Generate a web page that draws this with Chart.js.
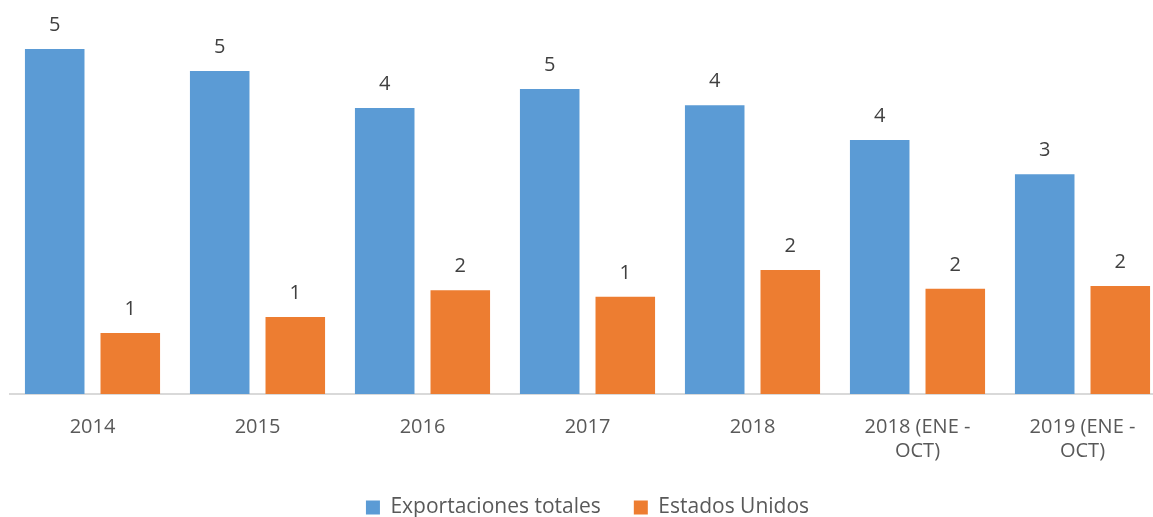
<!DOCTYPE html>
<html>
<head>
<meta charset="utf-8">
<script src="https://cdn.jsdelivr.net/npm/chart.js@4/dist/chart.umd.min.js"></script>
<style>
  html, body { margin: 0; padding: 0; background: #fff; overflow: hidden; }
  #frame { width: 1153px; height: 517px; overflow: hidden; position: relative; }
  #wrap { width: 1165px; height: 528px; position: absolute; left: 0; top: 0; }
</style>
</head>
<body>
<div id="frame"><div id="wrap"><canvas id="chart"></canvas></div></div>
<script>
'use strict';

const categories = ['2014', '2015', '2016', '2017', '2018', ['2018 (ENE -', 'OCT)'], ['2019 (ENE -', 'OCT)']];
const exportacionesTotales = [5.15, 4.82, 4.27, 4.55, 4.31, 3.79, 3.28];
const estadosUnidos = [0.91, 1.15, 1.55, 1.45, 1.85, 1.57, 1.61];
const seriesNames = ['Exportaciones totales', 'Estados Unidos'];

const FONT = '"Open Sans", "Liberation Sans", sans-serif';

// draws the rounded value above each bar
const valueLabels = {
    id: 'valueLabels',
    afterDatasetsDraw(chart) {
        const ctx = chart.ctx;
        ctx.save();
        ctx.font = '20px ' + FONT;
        ctx.fillStyle = '#404040';
        ctx.textAlign = 'center';
        ctx.textBaseline = 'alphabetic';
        chart.data.datasets.forEach((ds, i) => {
            chart.getDatasetMeta(i).data.forEach((bar, j) => {
                ctx.fillText(String(Math.round(ds.data[j])), bar.x, bar.y - 18);
            });
        });
        ctx.restore();
    }
};

new Chart(document.getElementById('chart'), {
    type: 'bar',
    data: {
        labels: categories,
        datasets: [
            { label: seriesNames[0], data: exportacionesTotales, backgroundColor: '#5B9BD5' },
            { label: seriesNames[1], data: estadosUnidos, backgroundColor: '#ED7D31' }
        ]
    },
    options: {
        responsive: true,
        maintainAspectRatio: false,
        animation: false,
        categoryPercentage: 0.916,
        barPercentage: 0.788,
        layout: { padding: { top: 0, left: 10, right: 0, bottom: 0 } },
        plugins: {
            legend: {
                position: 'bottom',
                labels: {
                    font: { family: FONT, size: 21 },
                    color: '#595959',
                    boxWidth: 14,
                    boxHeight: 14,
                    padding: 33
                }
            },
            tooltip: { enabled: false }
        },
        scales: {
            x: {
                grid: { display: false, drawTicks: false },
                border: { color: '#D9D9D9', width: 2 },
                afterFit(scale) { scale.height = 70; },
                ticks: {
                    font: { family: FONT, size: 20 },
                    color: '#595959',
                    padding: 21,
                    maxRotation: 0,
                    autoSkip: false
                }
            },
            y: {
                display: false,
                min: 0,
                max: 5.88
            }
        }
    },
    plugins: [valueLabels]
});
</script>
</body>
</html>
